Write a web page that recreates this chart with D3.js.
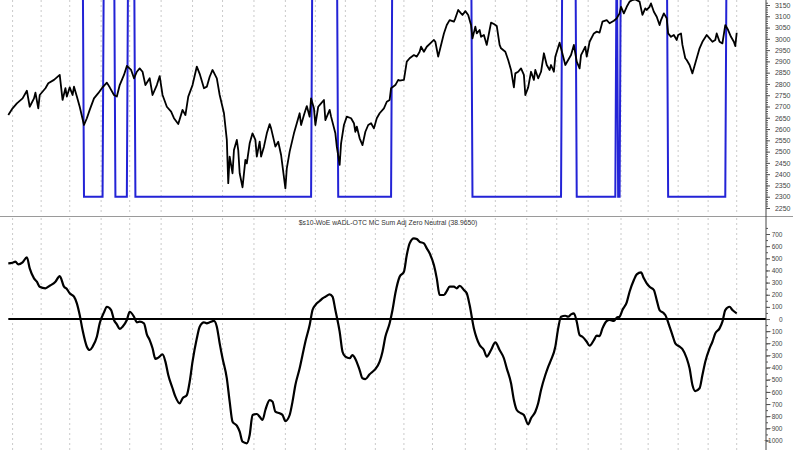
<!DOCTYPE html>
<html><head><meta charset="utf-8">
<script src="https://cdn.jsdelivr.net/npm/d3@7"></script>
<style>html,body{margin:0;padding:0;background:#fff;} svg{display:block;}</style>
</head><body><svg id="c" width="800" height="450"></svg>
<script>
// ---- data (trading-day index, values) ----
const priceDay = [
0,3,6,10,13,15,18,19,21,22,
26,28,32,34,36,38,40,41,43,45,
46,48,50,53,55,57,60,63,66,69,
71,74,76,78,81,83,86,88,90,92,
94,96,99,101,104,106,108,111,114,116,
119,122,124,126,129,132,134,137,139,141,
143,146,148,151,153,154,155,157,158,160,
161,162,164,166,167,169,171,173,174,176,
177,179,181,183,184,187,189,191,194,195,
197,200,202,204,205,207,209,211,212,214,
215,217,219,221,222,225,226,229,230,232,
233,235,237,240,242,243,244,246,248,250,
252,254,256,258,260,263,265,267,268,271,
273,274,277,279,281,284,286,288,289,291,
293,296,298,299,301,303,305,307,309,312,
313,315,317,318,320,322,324,325,327,328,
330,331,333,335,337,338,340,342,344,345,
348,350,352,354,355,357,359,361,362,364,
366,368,369,371,373,375,377,379,380,382,
383,386,387,390,392,394,396,398,400,401,
404,405,407,410,412,414,416,419,421,424,
426,428,429,431,433,435,437,439,442,444,
446,447,449,450,452,454,456,457,459,461,
462,464,466,468,469,471,472,474,475,477,
479,481,482,484,486,489,491,493,495,496,
498,500,502,504,506,508,509,510];
const priceClose = [
2662,2692,2714,2736,2770,2699,2736,2761,2692,2751,
2781,2803,2818,2829,2840,2729,2781,2744,2785,2751,
2788,2744,2699,2618,2648,2685,2736,2759,2785,2806,
2785,2751,2744,2795,2840,2880,2862,2825,2854,2869,
2854,2795,2825,2751,2795,2835,2751,2699,2677,2648,
2622,2685,2662,2744,2795,2877,2845,2781,2788,2832,
2862,2825,2751,2670,2552,2360,2478,2404,2507,2552,
2507,2404,2342,2463,2448,2537,2581,2552,2478,2544,
2478,2522,2581,2622,2603,2522,2544,2485,2337,2426,
2500,2581,2626,2670,2618,2662,2702,2655,2736,2692,
2618,2699,2714,2729,2640,2685,2655,2581,2522,2441,
2537,2618,2655,2648,2626,2588,2611,2559,2529,2588,
2618,2626,2603,2648,2670,2692,2721,2729,2781,2795,
2818,2815,2818,2899,2914,2928,2921,2943,2965,2943,
2965,2983,2995,2987,2921,2973,3024,3061,3083,3076,
3091,3128,3113,3106,3123,3106,3061,3002,3054,3024,
3039,3009,3017,2973,3039,3072,3066,3057,2973,2958,
2943,2906,2862,2785,2847,2854,2869,2840,2751,2785,
2854,2818,2862,2825,2854,2936,2884,2862,2884,2854,
2921,2983,2958,2884,2906,2928,2973,2899,2869,2928,
2965,2921,2987,3024,3032,3028,3076,3083,3069,3080,
3091,3113,3142,3113,3142,3165,3172,3175,3165,3106,
3135,3128,3142,3157,3120,3098,3061,3083,3113,3091,
3024,3009,3017,2995,3017,3024,2973,2914,2906,2884,
2847,2892,2914,2958,2987,3017,3002,2987,2995,3024,
2987,2980,3061,3039,3009,2987,2968,3027];

const oscDay = [
0,3,5,7,10,13,15,18,20,22,
26,29,33,36,39,41,43,46,48,50,
52,55,57,59,62,64,67,69,72,74,
76,78,80,83,85,88,90,92,95,97,
99,101,103,105,108,110,112,115,117,120,
122,125,127,129,132,134,137,139,141,144,
146,148,150,153,155,157,160,162,164,167,
169,171,174,176,178,180,183,185,187,190,
192,194,197,199,201,204,206,208,211,213,
215,218,220,222,225,227,229,232,234,236,
239,241,243,246,248,250,253,255,257,260,
262,264,267,269,271,274,277,279,281,284,
286,288,291,293,295,298,300,302,305,307,
309,312,314,316,319,321,323,326,328,330,
333,335,338,341,344,347,349,352,354,356,
359,361,364,366,369,371,373,376,378,380,
383,385,387,390,392,394,396,398,400,402,
405,407,410,412,414,416,419,421,424,426,
428,430,433,435,438,440,443,445,447,449,
452,454,456,459,460,463,465,467,470,472,
475,477,479,481,484,486,488,491,493,495,
498,500,502,505,507,510];
const oscValue = [
458,463,472,450,467,508,417,335,307,266,
253,274,307,354,266,247,212,184,129,33,
-91,-228,-255,-228,-146,-35,55,101,74,-8,
-44,-82,-63,-8,60,19,-27,-22,-35,-126,
-173,-241,-329,-318,-291,-351,-461,-570,-639,-694,
-653,-626,-516,-351,-159,-63,-27,-35,-27,-16,
-63,-200,-323,-488,-680,-845,-878,-927,-1010,-1023,
-955,-790,-782,-804,-831,-749,-667,-680,-763,-776,
-790,-840,-790,-680,-543,-406,-296,-187,-49,74,
115,148,170,184,203,184,74,-104,-269,-310,
-323,-296,-329,-420,-488,-494,-455,-434,-412,-351,
-269,-146,-35,74,212,348,389,527,623,664,
658,636,623,582,541,444,335,198,198,230,
266,266,253,274,239,212,115,-77,-159,-214,
-255,-310,-255,-192,-255,-323,-406,-529,-667,-749,
-776,-790,-867,-817,-763,-694,-584,-461,-393,-337,
-228,-77,19,27,19,38,47,-22,-132,-146,
-187,-220,-173,-137,-140,-77,-16,-8,-16,11,
19,74,137,225,321,368,384,335,294,266,
239,156,74,47,33,-63,-132,-200,-228,-247,
-323,-406,-543,-593,-570,-461,-351,-241,-187,-118,
-77,-22,74,101,74,47];

const monthStartDay = [3,23,43,65,85,107,129,150,172,194,215,236,257,277,297,320,341,363,384,406,429,448,469,490,510];
const signalSwitchDay = [52,66,74,83,88,212,230,268,324,387,397,425,426,428,461,502];
const signalLevels = [2300, 3500]; // [low, high]
const signalStartLevel = 1;
const priceTicks = d3.range(2250, 3151, 50);
const priceMinorTicks = d3.range(2250, 3161, 10);
const oscTicks = d3.range(-1000, 701, 100);
const oscMinorTicks = d3.range(-1000, 751, 50);
const oscTitle = "$s10-WoE wADL-OTC MC Sum Adj Zero Neutral (38.9650)";

// ---- layout ----
const svg = d3.select("#c");
const axisX = 766;
const topPane = {y0: 0, y1: 216};
const botPane = {y0: 217, y1: 450};

const x = d3.scaleLinear().domain([0, 510]).range([8.3, 736.7]);
const yP = d3.scaleLinear().domain([2250, 3150]).range([208, 5]);
const yO = d3.scaleLinear().domain([-1000, 700]).range([440.5, 234]);

const defs = svg.append("defs");
defs.append("clipPath").attr("id","clipTop").append("rect")
  .attr("x",0).attr("y",topPane.y0).attr("width",axisX).attr("height",topPane.y1-topPane.y0);
defs.append("clipPath").attr("id","clipBot").append("rect")
  .attr("x",0).attr("y",botPane.y0).attr("width",axisX).attr("height",botPane.y1-botPane.y0);

svg.append("rect").attr("width",800).attr("height",450).attr("fill","#fff");

// gridlines
const grid = svg.append("g").attr("stroke","#bdbdbd").attr("stroke-width",0.8).attr("stroke-dasharray","2,3");
grid.selectAll("line.gt").data(monthStartDay).join("line").attr("class","gt")
  .attr("x1",d=>x(d)).attr("x2",d=>x(d)).attr("y1",topPane.y0).attr("y2",topPane.y1-2);
grid.selectAll("line.gb").data(monthStartDay).join("line").attr("class","gb")
  .attr("x1",d=>x(d)).attr("x2",d=>x(d)).attr("y1",botPane.y0+1).attr("y2",botPane.y1);

// separator
svg.append("line").attr("x1",0).attr("x2",793).attr("y1",216.5).attr("y2",216.5)
  .attr("stroke","#9a9a9a").attr("stroke-width",1);

// signal step line
const sigPts = [];
let lvl = signalStartLevel;
sigPts.push([0, signalLevels[lvl]]);
signalSwitchDay.forEach(s => {
  sigPts.push([s, signalLevels[lvl]]);
  lvl = 1 - lvl;
  sigPts.push([s + 1, signalLevels[lvl]]);
});
sigPts.push([510, signalLevels[lvl]]);

const gTop = svg.append("g").attr("clip-path","url(#clipTop)");
gTop.append("path").datum(sigPts)
  .attr("fill","none").attr("stroke","#2323d6").attr("stroke-width",2)
  .attr("d", d3.line().x(d=>x(d[0])).y(d=>yP(d[1])));

const priceData = priceDay.map((d,i)=>[d, priceClose[i]]);
gTop.append("path").datum(priceData)
  .attr("fill","none").attr("stroke","#000").attr("stroke-width",1.8).attr("stroke-linejoin","round")
  .attr("d", d3.line().x(d=>x(d[0])).y(d=>yP(d[1])));

// bottom pane
const gBot = svg.append("g").attr("clip-path","url(#clipBot)");
gBot.append("line").attr("x1",x(0)).attr("x2",axisX).attr("y1",yO(0)).attr("y2",yO(0))
  .attr("stroke","#000").attr("stroke-width",2);
const oscData = oscDay.map((d,i)=>[d, oscValue[i]]);
gBot.append("path").datum(oscData)
  .attr("fill","none").attr("stroke","#000").attr("stroke-width",2.2).attr("stroke-linejoin","round")
  .attr("d", d3.line().x(d=>x(d[0])).y(d=>yO(d[1])).curve(d3.curveMonotoneX));

svg.append("text").attr("x",388).attr("y",225).attr("text-anchor","middle")
  .attr("font-family","Liberation Sans, Arial, sans-serif").attr("font-size",6.8)
  .attr("fill","#333").text(oscTitle);

// axes
svg.append("line").attr("x1",axisX).attr("x2",axisX).attr("y1",0).attr("y2",450)
  .attr("stroke","#444").attr("stroke-width",1);

function styleAxis(g){
  g.select(".domain").remove();
  g.selectAll(".tick line").attr("stroke","#555");
}
const aTopMinor = svg.append("g").attr("transform",`translate(${axisX},0)`)
  .call(d3.axisRight(yP).tickValues(priceMinorTicks).tickSize(2).tickFormat(""));
styleAxis(aTopMinor);
const aTop = svg.append("g").attr("transform",`translate(${axisX},0)`)
  .call(d3.axisRight(yP).tickValues(priceTicks).tickSize(4).tickFormat(d3.format("d")));
styleAxis(aTop);
aTop.selectAll("text").attr("text-anchor","end").attr("x",24.5)
  .attr("font-family","Liberation Sans, Arial, sans-serif").attr("font-size",7).attr("fill","#444");

const aBotMinor = svg.append("g").attr("transform",`translate(${axisX},0)`)
  .call(d3.axisRight(yO).tickValues(oscMinorTicks).tickSize(2).tickFormat(""));
styleAxis(aBotMinor);
const aBot = svg.append("g").attr("transform",`translate(${axisX},0)`)
  .call(d3.axisRight(yO).tickValues(oscTicks).tickSize(4).tickFormat(d3.format("d")));
styleAxis(aBot);
aBot.selectAll("text").attr("text-anchor","end").attr("x",16.5)
  .attr("font-family","Liberation Sans, Arial, sans-serif").attr("font-size",6.5).attr("fill","#444");
</script></body></html>
